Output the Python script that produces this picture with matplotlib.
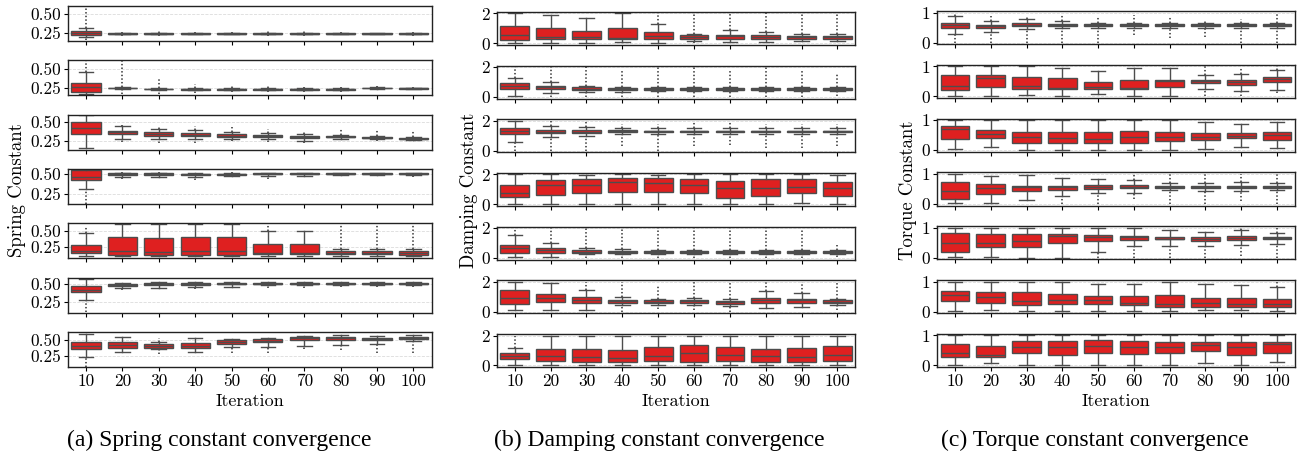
import numpy as np
import matplotlib
matplotlib.use('Agg')
import matplotlib.pyplot as plt

nan = np.nan
iterations = [10, 20, 30, 40, 50, 60, 70, 80, 90, 100]

## Spring constant (7 runs x 10 iterations)
spring_lo = [
    [0.19, 0.225, 0.225, 0.225, 0.225, 0.225, 0.225, 0.225, 0.225, 0.225],
    [0.177, 0.235, 0.225, 0.225, 0.225, 0.225, 0.225, 0.225, 0.24, 0.235],
    [0.158, 0.27, 0.28, 0.27, 0.27, 0.28, 0.25, 0.28, 0.27, 0.265],
    [0.31, 0.47, 0.47, 0.47, 0.48, 0.48, 0.48, 0.49, 0.49, 0.49],
    [0.12, 0.12, 0.12, 0.12, 0.12, 0.12, 0.12, 0.12, 0.12, 0.12],
    [0.27, 0.44, 0.44, 0.45, 0.46, 0.48, 0.48, 0.48, 0.48, 0.48],
    [0.24, 0.31, 0.36, 0.31, 0.39, 0.39, 0.40, 0.42, 0.44, 0.48],
]
spring_q1 = [
    [0.22, 0.232, 0.232, 0.232, 0.232, 0.232, 0.232, 0.232, 0.232, 0.232],
    [0.205, 0.245, 0.232, 0.228, 0.23, 0.23, 0.23, 0.23, 0.245, 0.24],
    [0.339, 0.343, 0.319, 0.31, 0.305, 0.30, 0.29, 0.295, 0.285, 0.275],
    [0.425, 0.49, 0.49, 0.495, 0.495, 0.50, 0.50, 0.50, 0.50, 0.50],
    [0.157, 0.135, 0.135, 0.135, 0.135, 0.14, 0.14, 0.14, 0.14, 0.13],
    [0.382, 0.47, 0.48, 0.49, 0.495, 0.50, 0.50, 0.50, 0.50, 0.50],
    [0.36, 0.38, 0.38, 0.38, 0.433, 0.464, 0.489, 0.49, 0.49, 0.51],
]
spring_med = [
    [0.245, 0.236, 0.236, 0.236, 0.236, 0.236, 0.236, 0.236, 0.236, 0.236],
    [0.259, 0.25, 0.236, 0.232, 0.235, 0.235, 0.235, 0.235, 0.25, 0.245],
    [0.412, 0.36, 0.34, 0.33, 0.32, 0.31, 0.30, 0.30, 0.29, 0.28],
    [0.47, 0.50, 0.50, 0.50, 0.50, 0.505, 0.505, 0.505, 0.505, 0.505],
    [0.20, 0.19, 0.185, 0.19, 0.19, 0.16, 0.17, 0.165, 0.16, 0.155],
    [0.416, 0.485, 0.495, 0.50, 0.50, 0.505, 0.505, 0.505, 0.505, 0.505],
    [0.406, 0.415, 0.41, 0.41, 0.46, 0.485, 0.52, 0.52, 0.51, 0.525],
]
spring_q3 = [
    [0.27, 0.24, 0.24, 0.24, 0.24, 0.24, 0.24, 0.24, 0.24, 0.24],
    [0.314, 0.255, 0.24, 0.236, 0.24, 0.24, 0.24, 0.24, 0.255, 0.25],
    [0.50, 0.385, 0.361, 0.35, 0.335, 0.325, 0.315, 0.31, 0.30, 0.285],
    [0.557, 0.51, 0.51, 0.505, 0.505, 0.51, 0.51, 0.51, 0.51, 0.51],
    [0.285, 0.40, 0.39, 0.405, 0.405, 0.30, 0.30, 0.20, 0.19, 0.20],
    [0.465, 0.50, 0.51, 0.51, 0.51, 0.51, 0.51, 0.51, 0.51, 0.51],
    [0.458, 0.458, 0.433, 0.45, 0.49, 0.51, 0.542, 0.54, 0.525, 0.54],
]
spring_hi = [
    [0.31, 0.245, 0.245, 0.245, 0.245, 0.245, 0.245, 0.245, 0.245, 0.245],
    [0.455, 0.265, 0.25, 0.245, 0.245, 0.245, 0.245, 0.245, 0.26, 0.255],
    [0.583, 0.444, 0.40, 0.39, 0.37, 0.35, 0.34, 0.33, 0.31, 0.30],
    [0.57, 0.52, 0.52, 0.515, 0.515, 0.515, 0.515, 0.515, 0.515, 0.515],
    [0.475, 0.60, 0.60, 0.60, 0.60, 0.50, 0.50, 0.22, 0.22, 0.22],
    [0.574, 0.51, 0.53, 0.52, 0.52, 0.52, 0.52, 0.52, 0.52, 0.52],
    [0.589, 0.536, 0.47, 0.52, 0.51, 0.53, 0.555, 0.57, 0.56, 0.57],
]
# extent of the outlier points below / above the whiskers (nan = none)
spring_flo = [
    [0.15, 0.21, 0.21, 0.22, 0.22, 0.21, 0.21, 0.22, 0.22, 0.21],
    [nan, 0.17, 0.17, 0.18, 0.20, 0.20, 0.20, 0.20, 0.22, 0.22],
    [nan, 0.24, 0.22, 0.22, 0.25, 0.24, 0.22, 0.26, 0.25, 0.25],
    [0.12, 0.44, 0.45, 0.43, 0.46, 0.44, 0.46, 0.48, 0.48, 0.47],
    [nan, nan, nan, nan, nan, nan, nan, nan, nan, nan],
    [0.10, 0.42, 0.43, 0.43, 0.45, 0.44, 0.44, 0.45, 0.45, 0.45],
    [0.08, nan, 0.28, nan, 0.30, 0.30, 0.36, 0.35, 0.30, 0.30],
]
spring_fhi = [
    [0.60, 0.26, 0.27, 0.26, 0.26, 0.27, 0.27, 0.26, 0.25, 0.26],
    [0.61, 0.60, 0.37, 0.30, 0.28, 0.28, 0.27, 0.27, 0.28, 0.27],
    [nan, 0.46, 0.44, 0.44, 0.43, 0.40, 0.36, 0.40, 0.39, 0.38],
    [nan, 0.53, 0.53, 0.52, 0.53, 0.52, 0.52, 0.52, 0.52, 0.52],
    [0.58, nan, nan, nan, nan, 0.60, nan, 0.60, 0.60, 0.60],
    [nan, nan, nan, nan, nan, nan, nan, nan, nan, nan],
    [nan, nan, 0.52, nan, nan, nan, nan, nan, nan, 0.57],
]

## Damping constant
damping_lo = [
    [0.0, 0.04, 0.0, 0.09, 0.0, 0.18, 0.07, 0.07, 0.18, 0.18],
    [0.04, 0.30, 0.37, 0.37, 0.40, 0.40, 0.40, 0.40, 0.40, 0.40],
    [0.60, 0.89, 1.00, 1.10, 1.10, 1.10, 1.10, 1.10, 1.10, 1.10],
    [0.0, 0.0, 0.0, 0.0, 0.0, 0.0, 0.0, 0.0, 0.07, 0.0],
    [0.05, 0.05, 0.27, 0.25, 0.25, 0.25, 0.25, 0.25, 0.25, 0.25],
    [0.09, 0.09, 0.11, 0.43, 0.43, 0.45, 0.40, 0.27, 0.34, 0.45],
    [0.0, 0.0, 0.0, 0.0, 0.0, 0.0, 0.0, 0.0, 0.0, 0.0],
]
damping_q1 = [
    [0.24, 0.29, 0.29, 0.29, 0.29, 0.29, 0.29, 0.29, 0.27, 0.27],
    [0.52, 0.52, 0.48, 0.48, 0.50, 0.50, 0.50, 0.50, 0.50, 0.50],
    [1.11, 1.16, 1.16, 1.22, 1.25, 1.25, 1.25, 1.25, 1.25, 1.25],
    [0.51, 0.62, 0.77, 0.84, 0.84, 0.73, 0.42, 0.59, 0.73, 0.59],
    [0.37, 0.37, 0.37, 0.33, 0.33, 0.33, 0.33, 0.33, 0.33, 0.33],
    [0.49, 0.65, 0.61, 0.61, 0.56, 0.58, 0.54, 0.61, 0.61, 0.56],
    [0.44, 0.29, 0.22, 0.22, 0.29, 0.22, 0.29, 0.22, 0.22, 0.29],
]
damping_med = [
    [0.58, 0.44, 0.44, 0.38, 0.47, 0.44, 0.47, 0.44, 0.40, 0.40],
    [0.74, 0.65, 0.57, 0.57, 0.57, 0.57, 0.57, 0.57, 0.57, 0.57],
    [1.33, 1.27, 1.27, 1.31, 1.30, 1.30, 1.30, 1.30, 1.30, 1.30],
    [0.73, 1.32, 1.27, 1.49, 1.43, 1.30, 1.12, 1.10, 1.19, 1.10],
    [0.65, 0.52, 0.43, 0.39, 0.39, 0.39, 0.39, 0.39, 0.39, 0.39],
    [0.94, 0.90, 0.79, 0.72, 0.67, 0.70, 0.65, 0.76, 0.76, 0.67],
    [0.62, 0.62, 0.58, 0.51, 0.62, 0.80, 0.67, 0.62, 0.58, 0.73],
]
damping_q3 = [
    [1.18, 1.00, 0.84, 1.02, 0.73, 0.56, 0.58, 0.56, 0.51, 0.49],
    [0.91, 0.74, 0.65, 0.63, 0.62, 0.62, 0.62, 0.62, 0.62, 0.62],
    [1.49, 1.38, 1.38, 1.38, 1.35, 1.35, 1.35, 1.35, 1.35, 1.35],
    [1.27, 1.65, 1.71, 1.78, 1.78, 1.69, 1.56, 1.69, 1.67, 1.52],
    [0.87, 0.65, 0.52, 0.48, 0.46, 0.46, 0.46, 0.46, 0.46, 0.46],
    [1.46, 1.17, 1.01, 0.81, 0.76, 0.79, 0.72, 0.92, 0.88, 0.76],
    [0.80, 1.13, 1.07, 1.02, 1.24, 1.36, 1.24, 1.13, 1.18, 1.33],
]
damping_hi = [
    [2.0, 1.87, 1.67, 2.0, 1.29, 0.62, 0.89, 0.78, 0.62, 0.62],
    [1.30, 0.98, 0.74, 0.70, 0.70, 0.70, 0.70, 0.70, 0.70, 0.70],
    [2.0, 1.62, 1.56, 1.55, 1.50, 1.50, 1.50, 1.50, 1.50, 1.50],
    [2.0, 2.0, 1.95, 2.0, 1.97, 2.0, 2.0, 2.0, 2.0, 1.95],
    [1.56, 0.98, 0.65, 0.60, 0.55, 0.55, 0.55, 0.55, 0.55, 0.55],
    [2.0, 1.90, 1.46, 0.99, 0.85, 0.90, 0.85, 1.39, 1.28, 0.85],
    [1.18, 2.0, 1.96, 2.0, 2.0, 2.0, 2.0, 2.0, 2.0, 1.96],
]
damping_flo = [
    [nan, nan, nan, nan, nan, 0.0, 0.0, 0.0, nan, nan],
    [nan, 0.0, 0.0, 0.0, 0.0, 0.0, 0.0, 0.0, 0.0, 0.1],
    [0.0, 0.0, 0.0, 0.3, 0.0, 0.3, 0.4, 0.2, 0.2, 0.3],
    [nan, nan, nan, nan, nan, nan, nan, nan, nan, nan],
    [nan, nan, 0.0, 0.0, 0.0, 0.0, 0.0, 0.0, 0.0, 0.1],
    [nan, nan, nan, 0.0, 0.2, 0.1, 0.0, nan, nan, 0.1],
    [nan, nan, nan, nan, nan, nan, nan, nan, nan, nan],
]
damping_fhi = [
    [nan, nan, nan, nan, 2.0, 2.0, 2.0, 2.0, 2.0, 2.0],
    [2.0, 2.0, 2.0, 1.8, 2.0, 2.0, 1.9, 2.0, 1.9, 1.6],
    [nan, 2.0, 2.0, 1.8, 1.8, 1.9, 1.9, 1.8, 1.8, 1.8],
    [nan, nan, nan, nan, nan, nan, nan, nan, nan, nan],
    [2.0, 2.0, 2.0, 2.0, 2.0, 2.0, 2.0, 2.0, 1.9, 0.9],
    [nan, nan, 2.0, 2.0, 1.7, 2.0, 1.9, 2.0, 2.0, 1.9],
    [2.0, nan, nan, nan, nan, nan, nan, nan, nan, nan],
]

## Torque constant
torque_lo = [
    [0.29, 0.36, 0.46, 0.49, 0.50, 0.50, 0.50, 0.50, 0.50, 0.50],
    [0.0, 0.0, 0.04, 0.0, 0.07, 0.02, 0.0, 0.23, 0.18, 0.20],
    [0.03, 0.10, 0.02, 0.02, 0.02, 0.02, 0.02, 0.03, 0.12, 0.08],
    [0.02, 0.02, 0.13, 0.26, 0.35, 0.37, 0.45, 0.44, 0.43, 0.45],
    [0.02, 0.04, 0.0, 0.0, 0.21, 0.38, 0.38, 0.38, 0.43, 0.47],
    [0.02, 0.04, 0.02, 0.02, 0.02, 0.02, 0.02, 0.06, 0.04, 0.02],
    [0.02, 0.08, 0.0, 0.0, 0.0, 0.0, 0.0, 0.08, 0.0, 0.11],
]
torque_q1 = [
    [0.49, 0.49, 0.54, 0.54, 0.55, 0.55, 0.55, 0.55, 0.55, 0.55],
    [0.21, 0.32, 0.26, 0.23, 0.23, 0.23, 0.32, 0.43, 0.39, 0.48],
    [0.38, 0.41, 0.24, 0.24, 0.24, 0.24, 0.31, 0.35, 0.39, 0.35],
    [0.16, 0.32, 0.42, 0.47, 0.50, 0.53, 0.53, 0.52, 0.52, 0.52],
    [0.19, 0.35, 0.35, 0.49, 0.56, 0.60, 0.62, 0.56, 0.60, 0.62],
    [0.36, 0.28, 0.23, 0.24, 0.27, 0.22, 0.17, 0.17, 0.17, 0.17],
    [0.27, 0.27, 0.41, 0.35, 0.41, 0.38, 0.41, 0.49, 0.36, 0.43],
]
torque_med = [
    [0.58, 0.54, 0.60, 0.59, 0.58, 0.58, 0.58, 0.58, 0.58, 0.58],
    [0.36, 0.61, 0.36, 0.29, 0.32, 0.29, 0.50, 0.50, 0.48, 0.57],
    [0.69, 0.54, 0.44, 0.41, 0.38, 0.44, 0.45, 0.45, 0.48, 0.49],
    [0.44, 0.53, 0.55, 0.55, 0.58, 0.58, 0.57, 0.57, 0.57, 0.56],
    [0.50, 0.51, 0.55, 0.73, 0.70, 0.68, 0.64, 0.64, 0.67, 0.65],
    [0.56, 0.50, 0.36, 0.38, 0.38, 0.30, 0.27, 0.28, 0.27, 0.27],
    [0.43, 0.36, 0.63, 0.63, 0.65, 0.63, 0.63, 0.68, 0.63, 0.71],
]
torque_q3 = [
    [0.65, 0.60, 0.65, 0.63, 0.61, 0.61, 0.61, 0.61, 0.61, 0.61],
    [0.71, 0.71, 0.64, 0.61, 0.48, 0.55, 0.55, 0.55, 0.55, 0.64],
    [0.82, 0.67, 0.62, 0.60, 0.60, 0.63, 0.60, 0.58, 0.58, 0.60],
    [0.74, 0.65, 0.61, 0.61, 0.63, 0.63, 0.61, 0.61, 0.61, 0.60],
    [0.84, 0.78, 0.80, 0.78, 0.76, 0.74, 0.70, 0.68, 0.72, 0.70],
    [0.69, 0.67, 0.66, 0.60, 0.52, 0.52, 0.54, 0.47, 0.47, 0.43],
    [0.71, 0.65, 0.82, 0.82, 0.84, 0.82, 0.78, 0.78, 0.78, 0.78],
]
torque_hi = [
    [0.87, 0.71, 0.79, 0.71, 0.65, 0.65, 0.65, 0.65, 0.65, 0.65],
    [1.0, 1.0, 1.0, 0.95, 0.84, 0.95, 0.93, 0.71, 0.75, 0.87],
    [1.0, 1.0, 1.0, 1.0, 1.0, 1.0, 1.0, 0.93, 0.86, 0.93],
    [1.0, 0.92, 0.95, 0.87, 0.82, 0.79, 0.70, 0.70, 0.72, 0.70],
    [1.0, 1.0, 1.0, 1.0, 1.0, 1.0, 0.93, 0.87, 0.93, 0.83],
    [1.0, 1.0, 1.0, 1.0, 0.93, 0.93, 1.0, 0.93, 0.88, 0.82],
    [1.0, 1.0, 1.0, 1.0, 1.0, 1.0, 1.0, 1.0, 1.0, 1.0],
]
torque_flo = [
    [0.0, 0.0, 0.0, 0.0, 0.0, 0.25, 0.15, 0.2, 0.0, 0.0],
    [nan, nan, nan, nan, nan, nan, nan, 0.0, 0.0, 0.1],
    [nan, nan, nan, nan, nan, nan, nan, nan, nan, nan],
    [nan, nan, nan, 0.0, 0.0, 0.15, 0.0, 0.0, 0.1, 0.0],
    [nan, nan, nan, nan, 0.0, 0.0, 0.0, 0.0, 0.05, 0.0],
    [nan, nan, nan, nan, nan, nan, nan, nan, nan, nan],
    [nan, nan, nan, nan, nan, nan, nan, nan, nan, nan],
]
torque_fhi = [
    [1.0, 0.9, 0.9, 0.95, 0.85, 0.92, 0.85, 0.75, 0.8, 1.0],
    [nan, nan, nan, nan, nan, nan, nan, 1.0, 0.98, 1.0],
    [nan, nan, nan, nan, nan, nan, nan, nan, nan, nan],
    [nan, nan, nan, nan, nan, 1.0, 1.0, 1.0, 1.0, 1.0],
    [nan, nan, nan, nan, nan, nan, nan, nan, 1.0, 1.0],
    [nan, nan, nan, nan, nan, nan, nan, nan, nan, 1.0],
    [nan, nan, nan, nan, nan, nan, nan, nan, nan, nan],
]

## Plotting

plt.rcParams['font.family'] = 'serif'
plt.rcParams['font.serif'] = ['cmr10', 'DejaVu Serif']
plt.rcParams['axes.formatter.use_mathtext'] = True

box_red = '#df2020'
line_grey = '#4d4d4d'

fig = plt.figure(figsize=(13.04, 4.59), dpi=100)

columns = [
    (spring_lo, spring_q1, spring_med, spring_q3, spring_hi, spring_flo, spring_fhi),
    (damping_lo, damping_q1, damping_med, damping_q3, damping_hi, damping_flo, damping_fhi),
    (torque_lo, torque_q1, torque_med, torque_q3, torque_hi, torque_flo, torque_fhi),
]
ylabels = ['Spring Constant', 'Damping Constant', 'Torque Constant']
yticks = [[0.25, 0.50], [0, 2], [0, 1]]
yticklabels = [['0.25', '0.50'], ['0', '2'], ['0', '1']]
# per-row y ranges of the spring column (other columns share one range)
spring_ylims = [(0.136, 0.609), (0.155, 0.614), (0.135, 0.593), (0.122, 0.566),
                (0.081, 0.618), (0.097, 0.588), (0.083, 0.62)]
grid_boxes = [(0.052, 0.331, 0.987, 0.55), (0.381, 0.656, 0.974, 0.63), (0.7186, 0.993, 0.976, 0.63)]
ylabel_x = [17, 469, 908]
caption_x = [219, 659, 1095]
captions = ['(a) Spring constant convergence', '(b) Damping constant convergence',
            '(c) Torque constant convergence']

for c, (lo, q1, med, q3, hi, flo, fhi) in enumerate(columns):
    left, right, top, hspace = grid_boxes[c]
    gs = fig.add_gridspec(7, 1, left=left, right=right, top=top, bottom=0.2005, hspace=hspace)
    for r in range(7):
        ax = fig.add_subplot(gs[r])
        stats = [dict(whislo=lo[r][i], q1=q1[r][i], med=med[r][i], q3=q3[r][i],
                      whishi=hi[r][i], fliers=[]) for i in range(10)]
        ax.bxp(stats, positions=range(10), widths=0.8, patch_artist=True, showfliers=False,
               boxprops=dict(facecolor=box_red, edgecolor=line_grey, linewidth=1.0),
               medianprops=dict(color=line_grey, linewidth=1.0),
               whiskerprops=dict(color=line_grey, linewidth=1.0),
               capprops=dict(color=line_grey, linewidth=1.0), capwidths=0.4)
        # outliers drawn as dotted runs beyond the whiskers
        for i in range(10):
            if not np.isnan(fhi[r][i]) and fhi[r][i] > hi[r][i]:
                ax.plot([i, i], [hi[r][i], fhi[r][i]], color=line_grey, lw=1.3,
                        ls=(0, (0.8, 1.2)), zorder=1)
            if not np.isnan(flo[r][i]) and flo[r][i] < lo[r][i]:
                ax.plot([i, i], [flo[r][i], lo[r][i]], color=line_grey, lw=1.3,
                        ls=(0, (0.8, 1.2)), zorder=1)
        ax.set_xlim(-0.5, 9.5)
        if c == 0:
            ax.set_ylim(*spring_ylims[r])
        elif c == 1:
            ax.set_ylim(-0.1, 2.1)
        else:
            ax.set_ylim(-0.05, 1.05)
        ax.set_yticks(yticks[c])
        ax.set_yticklabels(yticklabels[c])
        ax.set_xticks(range(10))
        ax.set_xticklabels([str(v) for v in iterations])
        ax.set_axisbelow(True)
        ax.yaxis.grid(True, ls='--', lw=0.6, color='#dcdcdc')
        for s in ax.spines.values():
            s.set_linewidth(1.0)
            s.set_color('#222222')
        ax.tick_params(labelsize=12.5, length=3, width=0.8, pad=2)
        if r < 6:
            ax.tick_params(labelbottom=False)
        else:
            ax.set_xlabel('Iteration', fontsize=13, labelpad=3)
    fig.text(ylabel_x[c] / 1304, 1 - 190 / 459, ylabels[c], rotation=90,
             ha='center', va='center', fontsize=13.5)
    fig.text(caption_x[c] / 1304, 1 - 440 / 459, captions[c], ha='center', va='center',
             fontsize=17, family='Liberation Serif')

fig.savefig('out.png', dpi=100)
